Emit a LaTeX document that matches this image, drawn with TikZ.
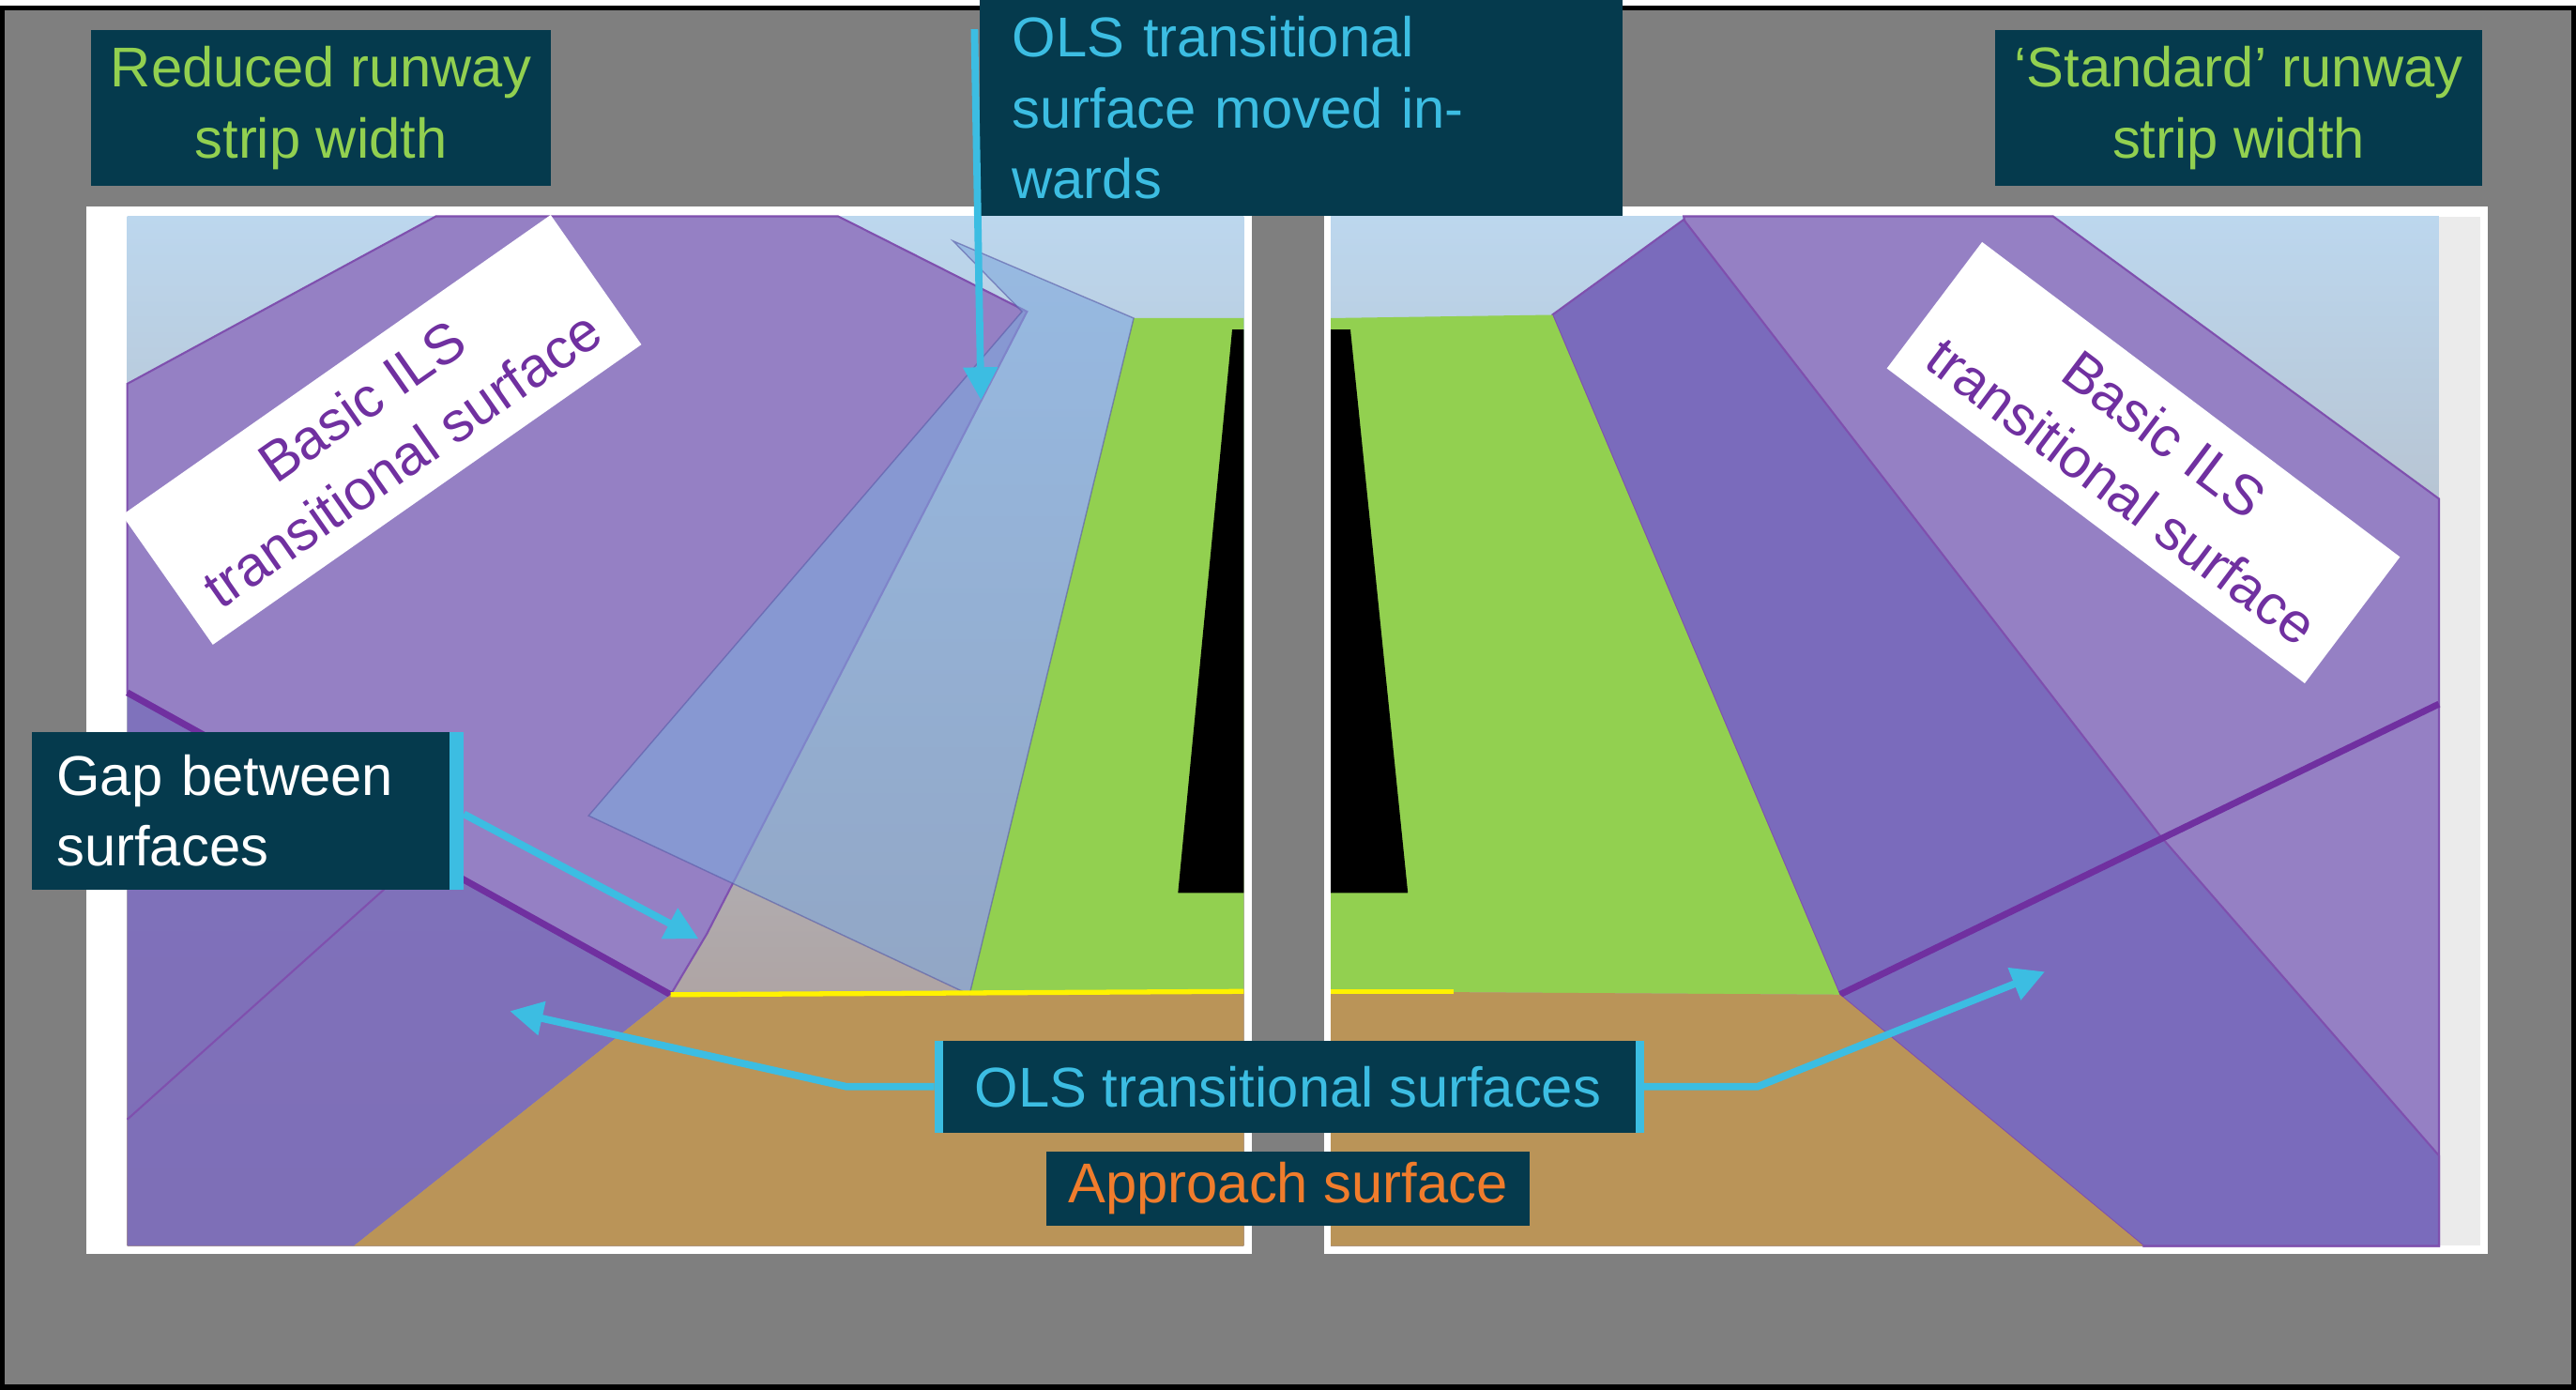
\documentclass[tikz,border=0pt]{standalone}
\usepackage{fontspec}
\setmainfont{Liberation Sans}
\usetikzlibrary{arrows.meta}
\definecolor{bgg}{HTML}{7F7F7F}
\definecolor{box}{HTML}{053A4D}
\definecolor{lg}{HTML}{92D050}
\definecolor{cy}{HTML}{3CBDE2}
\definecolor{org}{HTML}{F07C2C}
\definecolor{pur}{HTML}{7030A0}
\definecolor{brn}{HTML}{BA9458}
\definecolor{p1}{HTML}{9580C4}
\definecolor{p2}{HTML}{7A6BBC}
\definecolor{sky1}{HTML}{BCD7EE}
\definecolor{sky2}{HTML}{AA948C}
\definecolor{strip}{HTML}{7FA8DC}
\begin{document}
\begin{tikzpicture}[x=0.017507cm,y=-0.017507cm,
  lab/.style={fill=box,font=\fontsize{17}{21.5}\selectfont,inner sep=5pt},
  wlab/.style={fill=white,text=pur,font=\fontsize{17}{21.5}\selectfont,align=center,inner xsep=8pt,inner ysep=7pt},
  arr/.style={cy,line width=2.2pt,-{Triangle[length=10pt,width=10pt]}},
  edge/.style={draw=pur!60!p1,line width=0.6pt}]
\fill[bgg] (0,0) rectangle (1568,842);
\draw[black,line width=1.5pt] (1,1) rectangle (1567,841);
% left panel
\fill[white] (52,122) rectangle (762,760);
\shade[top color=sky1,bottom color=sky2] (77,128) rectangle (757,755);
\fill[p1,edge] (77,230) -- (265,128) -- (510,128) -- (625,186) -- (430,565) -- (408,602) -- (77,418) -- cycle;
\fill[p2,opacity=0.9] (77,418) -- (408,602) -- (215,755) -- (77,755) -- cycle;
\draw[pur,line width=2pt] (77,418) -- (408,602);
\draw[edge] (77,678) -- (240,532);
\fill[brn] (408,602) -- (757,600) -- (757,755) -- (215,755) -- cycle;
\fill[lg] (690,190) -- (757,190) -- (757,600) -- (590,602) -- cycle;
\fill[black] (750,197) -- (757,197) -- (757,540) -- (717,540) -- cycle;
\fill[strip,opacity=0.6,draw=blue!30!gray] (358,493) -- (622,186) -- (580,143) -- (690,190) -- (590,602) -- cycle;
\draw[yellow,line width=1.5pt] (408,602) -- (757,600);
% right panel
\fill[white] (806,122) rectangle (1515,760);
\fill[black!8] (1485,128) rectangle (1510,755);
\shade[top color=sky1,bottom color=sky2] (810,128) rectangle (1485,755);
\fill[p1,edge] (1025,128) -- (1250,128) -- (1485,300) -- (1485,755) -- (1305,755) -- (1120,602) -- cycle;
\fill[p2,edge] (945,188) -- (1025,130) -- (1315,505) -- (1485,700) -- (1485,755) -- (1305,755) -- (1120,602) -- cycle;
\draw[pur,line width=2pt] (1120,602) -- (1485,425);
\fill[lg] (810,190) -- (945,188) -- (1120,602) -- (810,600) -- cycle;
\fill[black] (810,197) -- (822,197) -- (857,540) -- (810,540) -- cycle;
\fill[brn] (810,600) -- (1120,602) -- (1305,755) -- (810,755) -- cycle;
\draw[yellow,line width=1.5pt] (810,600) -- (885,600);
% labels
\node[lab,text=lg,align=center,minimum width=280*0.017507cm,minimum height=87*0.017507cm] (red) at (195,62) {Reduced runway\\strip width};
\node[lab,text=cy,align=left,minimum width=392*0.017507cm,minimum height=96*0.017507cm,text width=352*0.017507cm] (ols) at (792,62) {OLS transitional\\surface moved inwards};
\node[lab,text=lg,align=center,minimum width=297*0.017507cm,minimum height=87*0.017507cm] (std) at (1363,62) {‘Standard’ runway\\strip width};
\node[lab,text=white,align=left,minimum width=262*0.017507cm,minimum height=96*0.017507cm,text width=232*0.017507cm] (gap) at (150,490) {Gap between\\surfaces};
\fill[cy] (273,442) rectangle (282,538);
\node[lab,text=cy,minimum width=430*0.017507cm,minimum height=56*0.017507cm] (olst) at (784,658) {OLS transitional surfaces};
\fill[cy] (569,630) rectangle (574,686);
\fill[cy] (996,630) rectangle (1001,686);
\node[lab,text=org,minimum width=294*0.017507cm,minimum height=45*0.017507cm,inner sep=2pt] (app) at (784,720) {Approach surface};
\node[wlab,rotate=35] (bl) at (232,258) {Basic ILS\\transitional surface};
\node[wlab,rotate=-37] (br) at (1305,278) {Basic ILS\\transitional surface};
% arrows
\coordinate (a1) at (597,240);
\coordinate (a2) at (425,568);
\coordinate (a3) at (310,612);
\coordinate (a4) at (1245,588);
\draw[arr] (593,14) -- (a1);
\draw[arr] (282,492) -- (a2);
\draw[arr] (olst.west) -- (515,658) -- (a3);
\draw[arr] (olst.east) -- (1070,658) -- (a4);
\end{tikzpicture}
\end{document}
